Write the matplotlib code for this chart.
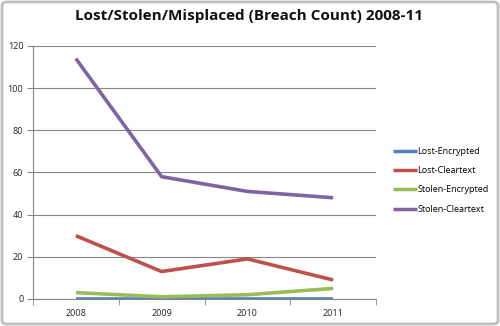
import matplotlib.pyplot as plt
from matplotlib.patches import FancyBboxPatch

years = ["2008", "2009", "2010", "2011"]
lost_encrypted = [0, 0, 0, 0]
lost_cleartext = [30, 13, 19, 9]
stolen_encrypted = [3, 1, 2, 5]
stolen_cleartext = [114, 58, 51, 48]

series = [
    ("Lost-Encrypted", lost_encrypted, "#4F81BD"),
    ("Lost-Cleartext", lost_cleartext, "#C0504D"),
    ("Stolen-Encrypted", stolen_encrypted, "#9BBB59"),
    ("Stolen-Cleartext", stolen_cleartext, "#8064A2"),
]

plt.rcParams['font.family'] = ['Open Sans', 'DejaVu Sans']

fig = plt.figure(figsize=(5.0, 3.26), dpi=100)
fig.patches.append(FancyBboxPatch((0.004, 0.006), 0.992, 0.988,
                                  boxstyle="round,pad=0,rounding_size=0.01",
                                  transform=fig.transFigure, fill=False,
                                  edgecolor="#BFBFBF", linewidth=2.0))

ax = fig.add_axes([0.066, 0.083, 0.686, 0.776])
x = list(range(len(years)))
for name, vals, col in series:
    ax.plot(x, vals, color=col, linewidth=2.6, label=name,
            solid_capstyle="butt", zorder=3)

ax.set_xlim(-0.5, len(years) - 0.5)
ax.set_ylim(0, 120)
ax.set_yticks(range(0, 121, 20))
ax.set_xticks(x)
ax.set_xticklabels(years)
ax.set_xticks([i + 0.5 for i in range(-1, len(years))], minor=True)
ax.tick_params(axis="x", which="major", length=0, labelsize=6.5, pad=7, colors="#222222")
ax.tick_params(axis="x", which="minor", length=4, color="#868686", direction="out")
ax.tick_params(axis="y", length=4, color="#868686", labelsize=6.5, pad=3, labelcolor="#222222")
ax.grid(axis="y", color="#868686", linewidth=0.8)
ax.set_axisbelow(True)
for s in ["top", "right"]:
    ax.spines[s].set_visible(False)
ax.spines["left"].set_color("#868686")
ax.spines["bottom"].set_color("#868686")

fig.text(0.498, 0.952, "Lost/Stolen/Misplaced (Breach Count) 2008-11",
         ha="center", va="center", fontsize=11, fontweight="bold", color="#111111")

leg = fig.legend(loc="center left", bbox_to_anchor=(0.77, 0.447), frameon=False,
                 fontsize=6.5, handlelength=2.6, handletextpad=0.1,
                 labelspacing=1.15)
for line in leg.get_lines():
    line.set_linewidth(2.5)

fig.savefig("out.png", dpi=100)
